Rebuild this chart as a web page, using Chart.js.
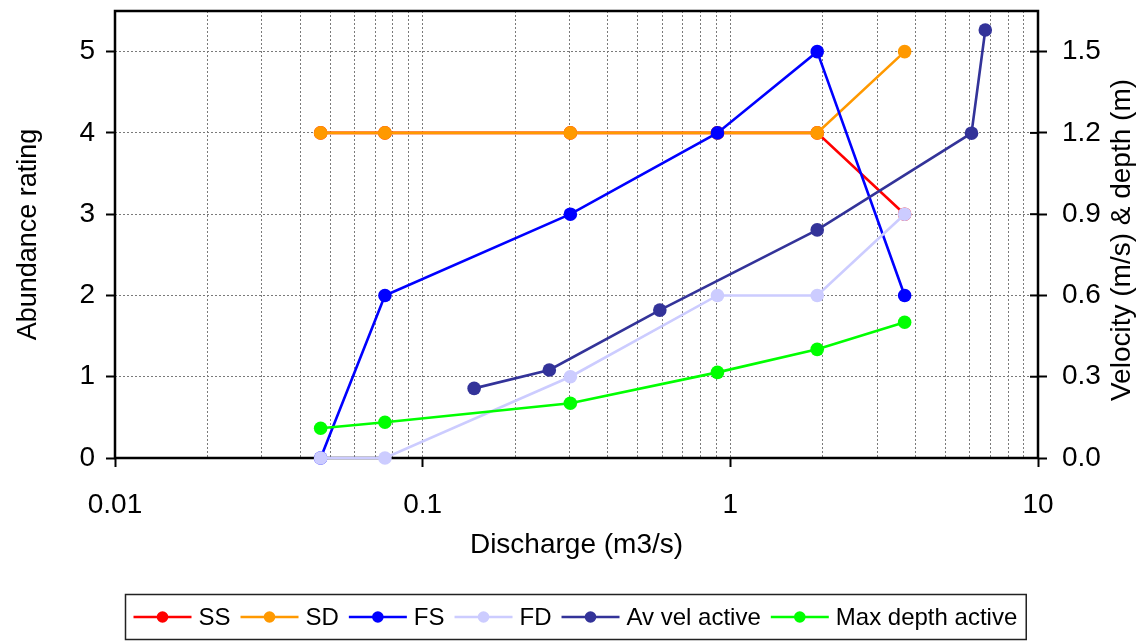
<!DOCTYPE html>
<html>
<head>
<meta charset="utf-8">
<script src="https://cdn.jsdelivr.net/npm/chart.js@4/dist/chart.umd.min.js"></script>
<style>
  html, body { margin: 0; padding: 0; background: #fff; }
  #wrap { width: 1144px; height: 641px; position: relative; }
</style>
</head>
<body>
<div id="wrap"><canvas id="c"></canvas></div>
<script>
// Discharge (m3/s) at each sampled flow
const discharge = [0.0466, 0.0754, 0.302, 0.908, 1.916, 3.686];
// Abundance ratings
const ssValues = [4, 4, 4, 4, 4, 3];
const sdValues = [4, 4, 4, 4, 4, 5];
const fsValues = [0, 2, 3, 4, 5, 2];
const fdValues = [0, 0, 1, 2, 2, 3];
// Hydraulics of the active channel
const velDischarge = [0.147, 0.258, 0.590, 1.916, 6.08, 6.74];
const velValues = [0.257, 0.325, 0.546, 0.842, 1.199, 1.58];
const depthValues = [0.110, 0.132, 0.202, 0.316, 0.401, 0.501];

// Axis ticks
const xDecades = [0.01, 0.1, 1, 10];
const xTickLabels = ['0.01', '0.1', '1', '10'];
const leftTicks = [0, 1, 2, 3, 4, 5];
const rightTicks = [0, 0.3, 0.6, 0.9, 1.2, 1.5];
const rightTickLabels = ['0.0', '0.3', '0.6', '0.9', '1.2', '1.5'];

const FONT = '"Liberation Sans", Arial, sans-serif';

const pts = (xs, ys) => xs.map((x, i) => ({ x, y: ys[i] }));

function series(label, xs, ys, color, axis, order) {
  return {
    label,
    data: pts(xs, ys),
    yAxisID: axis,
    borderColor: color,
    backgroundColor: color,
    pointBackgroundColor: color,
    pointBorderColor: color,
    borderWidth: 2.6,
    pointRadius: 6.8,
    pointBorderWidth: 0,
    tension: 0,
    clip: false,
    order
  };
}

const datasets = [
  series('SS', discharge, ssValues, '#FF0000', 'y', 6),
  series('SD', discharge, sdValues, '#FF9900', 'y', 5),
  series('FS', discharge, fsValues, '#0000FF', 'y', 4),
  series('FD', discharge, fdValues, '#CCCCFF', 'y', 3),
  series('Av vel active', velDischarge, velValues, '#333399', 'y2', 2),
  series('Max depth active', discharge, depthValues, '#00FF00', 'y2', 1)
];

// log gridlines: 1..9 within each decade, plus the final decade
function logTicks() {
  const out = [];
  for (let d = 0; d < xDecades.length - 1; d++) {
    for (let m = 1; m <= 9; m++) out.push({ value: +(xDecades[d] * m).toPrecision(6) });
  }
  out.push({ value: xDecades[xDecades.length - 1] });
  return out;
}
const isDecade = v => xDecades.some(d => Math.abs(d - v) < 1e-9);

// plot frame plus the inner half of the right-axis tick marks
const framePlugin = {
  id: 'frame',
  beforeDatasetsDraw(chart) {
    const { ctx, chartArea: a } = chart;
    ctx.save();
    ctx.strokeStyle = '#000';
    ctx.lineWidth = 2.5;
    ctx.strokeRect(a.left, a.top, a.right - a.left, a.bottom - a.top);
    const y2 = chart.scales.y2;
    ctx.lineWidth = 2;
    y2.ticks.forEach(t => {
      const y = y2.getPixelForValue(t.value);
      ctx.beginPath();
      ctx.moveTo(a.right - 8, y);
      ctx.lineTo(a.right, y);
      ctx.stroke();
    });
    ctx.restore();
  }
};

// right axis title (reads bottom to top) and boxed legend along the bottom
const textPlugin = {
  id: 'extras',
  afterDraw(chart) {
    const ctx = chart.ctx;
    ctx.save();
    ctx.fillStyle = '#000';
    ctx.font = '28px ' + FONT;
    ctx.textAlign = 'center';
    ctx.textBaseline = 'middle';
    ctx.translate(1122, 240);
    ctx.rotate(-Math.PI / 2);
    ctx.fillText('Velocity (m/s) & depth (m)', 0, 0);
    ctx.restore();

    ctx.save();
    ctx.font = '24px ' + FONT;
    const ds = chart.data.datasets;
    const lineW = 58, gap = 7, sep = 10, padL = 8, padR = 9;
    const widths = ds.map(d => ctx.measureText(d.label).width);
    const inner = widths.reduce((s, w) => s + lineW + gap + w, 0) + sep * (ds.length - 1);
    const total = padL + padR + inner;
    const boxLeft = Math.round(575 - total / 2) + 0.5;
    const boxTop = 594.5, boxH = 45;
    ctx.strokeStyle = '#222';
    ctx.lineWidth = 1.5;
    ctx.strokeRect(boxLeft, boxTop, total, boxH);
    const cy = boxTop + boxH / 2;
    let x = boxLeft + padL;
    ds.forEach((d, i) => {
      ctx.strokeStyle = d.borderColor;
      ctx.lineWidth = 2.5;
      ctx.beginPath();
      ctx.moveTo(x, cy);
      ctx.lineTo(x + lineW, cy);
      ctx.stroke();
      ctx.fillStyle = d.borderColor;
      ctx.beginPath();
      ctx.arc(x + lineW / 2, cy, 5.8, 0, Math.PI * 2);
      ctx.fill();
      ctx.fillStyle = '#000';
      ctx.textAlign = 'left';
      ctx.textBaseline = 'middle';
      ctx.fillText(d.label, x + lineW + gap, cy + 1);
      x += lineW + gap + widths[i] + sep;
    });
    ctx.restore();
  }
};

const fitVertical = w => s => { s.width = w; s.paddingTop = 0; s.paddingBottom = 0; };

new Chart(document.getElementById('c'), {
  type: 'line',
  data: { datasets },
  plugins: [framePlugin, textPlugin],
  options: {
    responsive: true,
    maintainAspectRatio: false,
    animation: false,
    layout: { padding: { top: 11, bottom: 73, left: 0, right: 0 } },
    plugins: { legend: { display: false }, tooltip: { enabled: false } },
    scales: {
      x: {
        type: 'logarithmic',
        min: 0.01,
        max: 10,
        afterBuildTicks: s => { s.ticks = logTicks(); },
        afterFit: s => { s.height = 110; s.paddingLeft = 0; s.paddingRight = 0; },
        ticks: {
          autoSkip: false,
          maxRotation: 0,
          padding: 21,
          color: '#000',
          font: { family: FONT, size: 28 },
          callback: v => {
            const i = xDecades.findIndex(d => Math.abs(d - v) < 1e-9);
            return i >= 0 ? xTickLabels[i] : '';
          }
        },
        grid: {
          color: '#7a7a7a',
          lineWidth: 1,
          drawTicks: true,
          tickLength: 9,
          tickWidth: 2,
          tickColor: c => (c.tick && isDecade(c.tick.value)) ? '#000' : 'rgba(0,0,0,0)'
        },
        border: { display: false, dash: [2, 2] },
        title: {
          display: true,
          text: 'Discharge (m3/s)',
          color: '#000',
          font: { family: FONT, size: 28 },
          padding: { top: 0, bottom: 6 }
        }
      },
      y: {
        type: 'linear',
        position: 'left',
        min: 0,
        max: 5.5,
        afterBuildTicks: s => { s.ticks = leftTicks.map(v => ({ value: v })); },
        afterFit: fitVertical(115),
        ticks: {
          padding: 11,
          color: '#000',
          font: { family: FONT, size: 28 },
          callback: v => String(v)
        },
        grid: {
          color: '#7a7a7a',
          lineWidth: 1,
          tickLength: 9,
          tickWidth: 2,
          tickColor: '#000'
        },
        border: { display: false, dash: [2, 2] },
        title: {
          display: true,
          text: 'Abundance rating',
          color: '#000',
          font: { family: FONT, size: 27 },
          padding: { top: 12, bottom: 0 }
        }
      },
      y2: {
        type: 'linear',
        position: 'right',
        min: 0,
        max: 1.65,
        afterBuildTicks: s => { s.ticks = rightTicks.map(v => ({ value: v })); },
        afterFit: fitVertical(106),
        ticks: {
          padding: 15,
          color: '#000',
          font: { family: FONT, size: 28 },
          callback: v => {
            const i = rightTicks.findIndex(r => Math.abs(r - v) < 1e-9);
            return i >= 0 ? rightTickLabels[i] : '';
          }
        },
        grid: {
          drawOnChartArea: false,
          tickLength: 9,
          tickWidth: 2,
          tickColor: '#000'
        },
        border: { display: false }
      }
    }
  }
});
</script>
</body>
</html>
